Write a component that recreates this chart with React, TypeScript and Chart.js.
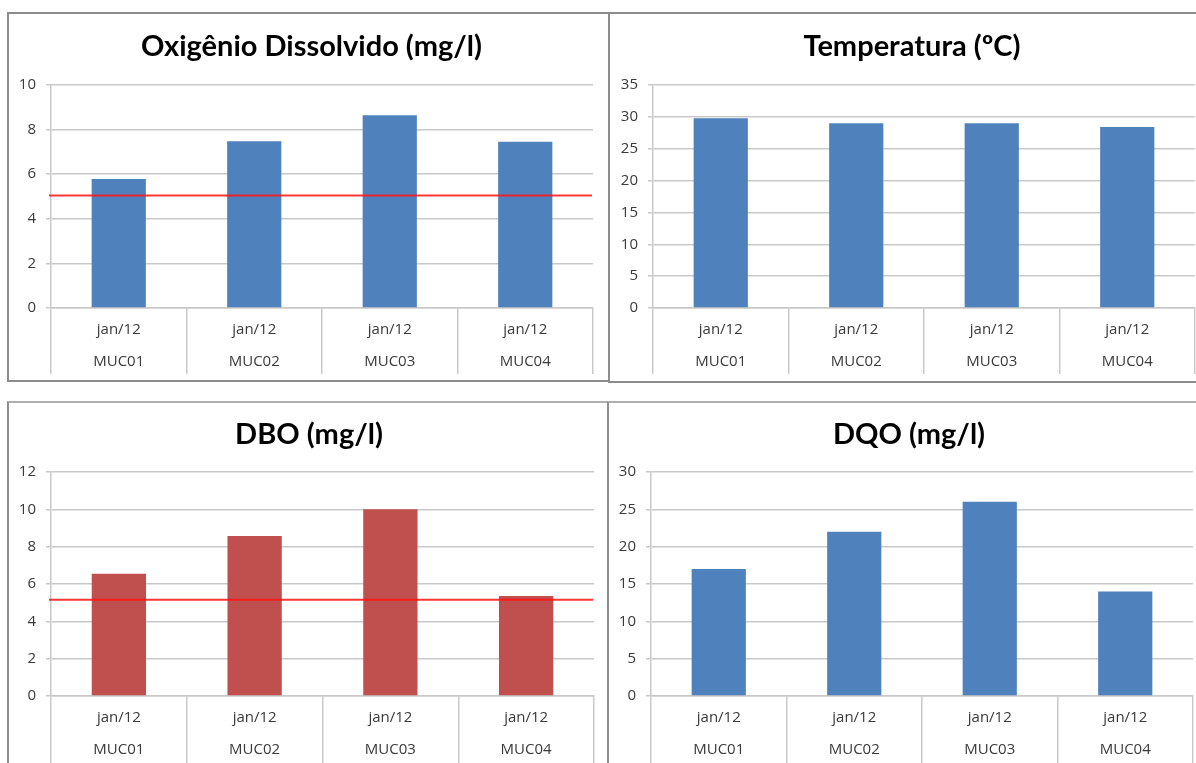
import React, { useEffect, useRef } from 'react';
import { Chart, registerables } from 'chart.js';

Chart.register(...registerables);

// ---------- data ----------
const periodLabel = 'jan/12';
const stations = ['MUC01', 'MUC02', 'MUC03', 'MUC04'];

const odTitle = 'Oxigênio Dissolvido (mg/l)';
const odValues = [5.78, 7.48, 8.64, 7.45];
const odLimit = 5.05;
const odTicks = { max: 10, step: 2 };

const tempTitle = 'Temperatura (ºC)';
const tempValues = [29.8, 29.0, 29.0, 28.4];
const tempTicks = { max: 35, step: 5 };

const dboTitle = 'DBO (mg/l)';
const dboValues = [6.55, 8.57, 10.0, 5.36];
const dboLimit = 5.15;
const dboTicks = { max: 12, step: 2 };

const dqoTitle = 'DQO (mg/l)';
const dqoValues = [17.0, 22.0, 26.0, 14.0];
const dqoTicks = { max: 30, step: 5 };

// ---------- styles ----------
const BLUE = '#4F81BD';
const RED = '#C0504D';
const GRID = '#c9c9c9';
const TEXT = '#3a3a3a';
const TICK_FONT = "'Open Sans', sans-serif";
const TITLE_FONT = "Lato, sans-serif";

type Spec = {
  title: string;
  values: number[];
  color: string;
  ticks: { max: number; step: number };
  limit?: number;
  x: number; y: number; w: number; h: number;
  axisW: number; rightW: number; padBottom: number;
  titleTop: number; titleBottom: number;
  sepLen: number; labelPad: number;
};

const panels: Spec[] = [
  { title: odTitle, values: odValues, color: BLUE, ticks: odTicks, limit: odLimit,
    x: 9, y: 14, w: 605, h: 366, axisW: 42, rightW: 21, padBottom: 6,
    titleTop: 15.5, titleBottom: 20.7, sepLen: 66, labelPad: -60 },
  { title: tempTitle, values: tempValues, color: BLUE, ticks: tempTicks,
    x: 610, y: 14, w: 604, h: 366, axisW: 43, rightW: 19, padBottom: 6,
    titleTop: 15.5, titleBottom: 20.7, sepLen: 66, labelPad: -60 },
  { title: dboTitle, values: dboValues, color: RED, ticks: dboTicks, limit: dboLimit,
    x: 9, y: 403, w: 600, h: 373, axisW: 42, rightW: 15, padBottom: 0,
    titleTop: 14.5, titleBottom: 19.7, sepLen: 80, labelPad: -74 },
  { title: dqoTitle, values: dqoValues, color: BLUE, ticks: dqoTicks,
    x: 609, y: 403, w: 600, h: 373, axisW: 42, rightW: 16, padBottom: 0,
    titleTop: 14.5, titleBottom: 19.7, sepLen: 80, labelPad: -74 },
];

function makeConfig(p: Spec): any {
  const limitPlugin = {
    id: 'limitLine',
    afterDatasetsDraw(chart: any) {
      if (p.limit === undefined) return;
      const { ctx, chartArea, scales } = chart;
      const yPix = scales.y.getPixelForValue(p.limit);
      ctx.save();
      ctx.strokeStyle = 'rgba(255,20,20,0.85)';
      ctx.lineWidth = 2;
      ctx.beginPath();
      ctx.moveTo(chartArea.left - 2, yPix);
      ctx.lineTo(chartArea.right - 1, yPix);
      ctx.stroke();
      ctx.restore();
    },
  };
  return {
    type: 'bar',
    data: {
      labels: stations.map((s) => [periodLabel, s]),
      datasets: [
        {
          data: p.values,
          backgroundColor: p.color,
          categoryPercentage: 1,
          barPercentage: 0.4,
          yAxisID: 'y',
        },
      ],
    },
    options: {
      animation: false,
      responsive: false,
      maintainAspectRatio: false,
      devicePixelRatio: 1,
      layout: { padding: { left: 0, top: 0, right: 0, bottom: p.padBottom } },
      plugins: {
        legend: { display: false },
        tooltip: { enabled: false },
        title: {
          display: true,
          text: p.title,
          color: '#000',
          font: { family: TITLE_FONT, size: 29, weight: 'bold', lineHeight: 1.2 },
          padding: { top: p.titleTop, bottom: p.titleBottom },
        },
      },
      scales: {
        x: {
          offset: true,
          grid: {
            display: true,
            offset: true,
            drawOnChartArea: false,
            drawTicks: true,
            tickLength: p.sepLen,
            color: GRID,
            lineWidth: 1.5,
          },
          border: { display: true, color: GRID, width: 1.5 },
          ticks: {
            padding: p.labelPad,
            color: TEXT,
            autoSkip: false,
            maxRotation: 0,
            minRotation: 0,
            font: { family: TICK_FONT, size: 15, lineHeight: '32px' },
          },
          afterFit: (s: any) => {
            s.height = p.sepLen;
          },
        },
        y: {
          position: 'left',
          min: 0,
          max: p.ticks.max,
          ticks: {
            stepSize: p.ticks.step,
            padding: 10,
            color: TEXT,
            font: { family: TICK_FONT, size: 15 },
          },
          grid: { color: GRID, lineWidth: 1.5, tickLength: 5, drawTicks: true },
          border: { display: true, color: GRID, width: 1.5 },
          afterFit: (s: any) => {
            s.width = p.axisW;
          },
        },
        // empty spacer on the right so the title stays centred on the whole panel
        spacer: {
          type: 'linear',
          position: 'right',
          display: true,
          grid: { display: false, drawTicks: false },
          border: { display: false },
          ticks: { display: false },
          afterFit: (s: any) => {
            s.width = p.rightW;
          },
        },
      },
    },
    plugins: [limitPlugin],
  };
}

function ChartPanel({ spec }: { spec: Spec }) {
  const ref = useRef<HTMLCanvasElement>(null);
  useEffect(() => {
    const chart = new Chart(ref.current as HTMLCanvasElement, makeConfig(spec));
    return () => chart.destroy();
  }, [spec]);
  return (
    <canvas
      ref={ref}
      width={spec.w}
      height={spec.h}
      style={{ position: 'absolute', left: spec.x, top: spec.y, width: spec.w, height: spec.h }}
    />
  );
}

const BORDER = '2px solid #8c8c8c';
const BORDER_LIGHT = '2px solid #b0b0b0';

export default function App() {
  return (
    <div
      style={{
        position: 'absolute',
        left: 0,
        top: 0,
        width: 1196,
        height: 763,
        overflow: 'hidden',
        background: '#fff',
      }}
    >
      <div style={{ position: 'absolute', left: 7, top: 12, width: 601, height: 370, boxSizing: 'border-box', borderLeft: BORDER, borderTop: BORDER, borderBottom: BORDER }} />
      <div style={{ position: 'absolute', left: 608, top: 12, width: 700, height: 371, boxSizing: 'border-box', borderLeft: BORDER, borderTop: BORDER, borderBottom: BORDER }} />
      <div style={{ position: 'absolute', left: 7, top: 401, width: 600, height: 400, boxSizing: 'border-box', borderLeft: BORDER, borderTop: BORDER_LIGHT }} />
      <div style={{ position: 'absolute', left: 607, top: 401, width: 700, height: 400, boxSizing: 'border-box', borderLeft: BORDER, borderTop: BORDER_LIGHT }} />
      {panels.map((p) => (
        <ChartPanel key={p.title} spec={p} />
      ))}
      <div style={{ position: 'absolute', left: 608, top: 12, width: 2, height: 371, background: '#8c8c8c' }} />
    </div>
  );
}
